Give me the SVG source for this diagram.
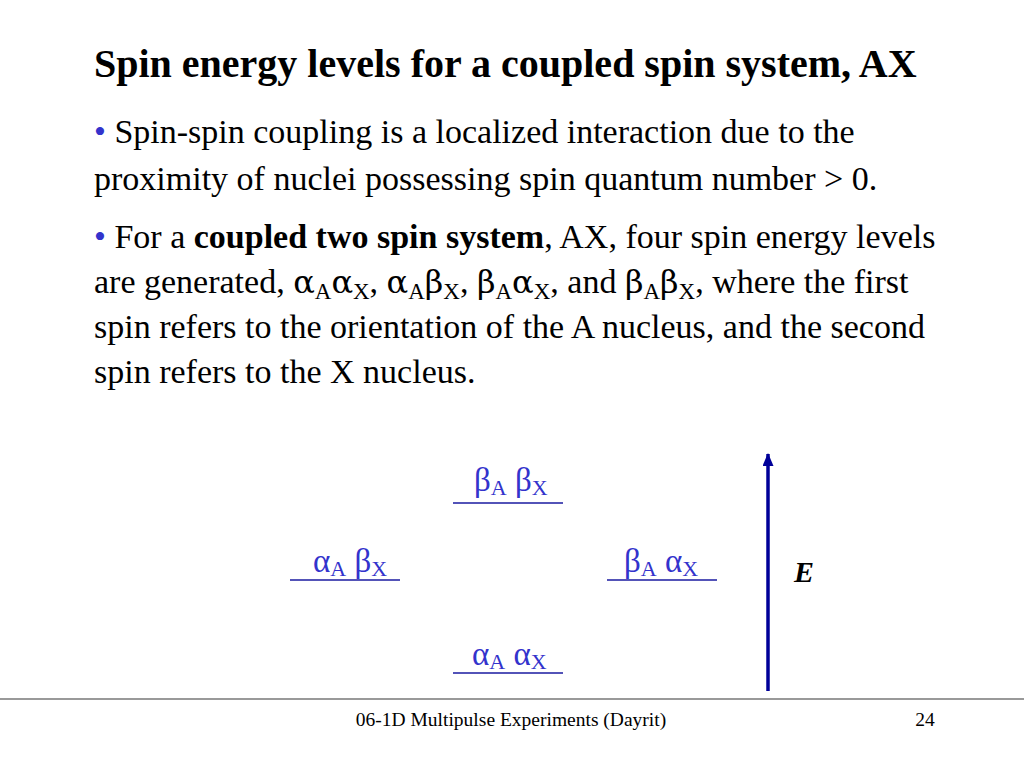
<svg xmlns="http://www.w3.org/2000/svg" width="1024" height="768" viewBox="0 0 1024 768">
<style>
.t{font-family:"Liberation Serif","Times New Roman",serif;fill:#000}
.b{font-size:34px}
.bl{fill:#3333cc}
.g{font-family:"DejaVu Serif","Liberation Serif",serif;font-size:32px}
.lv{font-family:"Liberation Serif","Times New Roman",serif;font-size:33px;fill:#3333cc}
.sub{font-size:22px}
.bs{font-size:23px}
.lvl{stroke:#1a1aa0;stroke-width:1.5}
</style>
<defs>
<marker id="ah" markerWidth="14" markerHeight="12" refX="12" refY="5.5" orient="auto" markerUnits="userSpaceOnUse"><path d="M0,0 L13,5.5 L0,11 Z" fill="#000099"/></marker>
</defs>
<rect width="1024" height="768" fill="#fff"/>
<text class="t" x="94" y="77" font-size="40" font-weight="bold">Spin energy levels for a coupled spin system, AX</text>
<text class="t b" x="94" y="143"><tspan class="bl">•</tspan> Spin-spin coupling is a localized interaction due to the</text>
<text class="t b" x="94" y="190">proximity of nuclei possessing spin quantum number &gt; 0.</text>
<text class="t b" x="94" y="248"><tspan class="bl">•</tspan> For a <tspan font-weight="bold">coupled two spin system</tspan>, AX, four spin energy levels</text>
<text class="t b" x="94" y="293">are generated, <tspan class="g">α</tspan><tspan class="bs" dy="6">A</tspan><tspan class="g" dy="-6">α</tspan><tspan class="bs" dy="6">X</tspan><tspan dy="-6">, </tspan><tspan class="g">α</tspan><tspan class="bs" dy="6">A</tspan><tspan class="g" dy="-6">β</tspan><tspan class="bs" dy="6">X</tspan><tspan dy="-6">, </tspan><tspan class="g">β</tspan><tspan class="bs" dy="6">A</tspan><tspan class="g" dy="-6">α</tspan><tspan class="bs" dy="6">X</tspan><tspan dy="-6">, and </tspan><tspan class="g">β</tspan><tspan class="bs" dy="6">A</tspan><tspan class="g" dy="-6">β</tspan><tspan class="bs" dy="6">X</tspan><tspan dy="-6">, where the first</tspan></text>
<text class="t b" x="94" y="338">spin refers to the orientation of the A nucleus, and the second</text>
<text class="t b" x="94" y="383">spin refers to the X nucleus.</text>
<g id="level-bb">
<text class="lv" x="474" y="491">β<tspan class="sub" dy="4">A</tspan><tspan dy="-4"> β</tspan><tspan class="sub" dy="4">X</tspan></text>
<line class="lvl" x1="453" y1="503" x2="563" y2="503"/>
</g>
<g id="level-ab">
<text class="lv" x="313" y="572">α<tspan class="sub" dy="4">A</tspan><tspan dy="-4"> β</tspan><tspan class="sub" dy="4">X</tspan></text>
<line class="lvl" x1="290" y1="580" x2="400" y2="580"/>
</g>
<g id="level-ba">
<text class="lv" x="624" y="572">β<tspan class="sub" dy="4">A</tspan><tspan dy="-4"> α</tspan><tspan class="sub" dy="4">X</tspan></text>
<line class="lvl" x1="607" y1="580" x2="717" y2="580"/>
</g>
<g id="level-aa">
<text class="lv" x="472" y="665">α<tspan class="sub" dy="4">A</tspan><tspan dy="-4"> α</tspan><tspan class="sub" dy="4">X</tspan></text>
<line class="lvl" x1="453" y1="673" x2="563" y2="673"/>
</g>
<g id="connectors">
<line x1="768" y1="691" x2="768" y2="454" stroke="#000099" stroke-width="3.5" marker-end="url(#ah)"/>
</g>
<g id="energy-label">
<text class="t" x="794" y="582" font-size="30" font-weight="bold" font-style="italic">E</text>
</g>
<line x1="0" y1="699" x2="1024" y2="699" stroke="#777" stroke-width="1.5"/>
<text class="t" x="511" y="726" font-size="19.5" text-anchor="middle">06-1D Multipulse Experiments (Dayrit)</text>
<text class="t" x="925" y="726" font-size="19.5" text-anchor="middle">24</text>
</svg>
